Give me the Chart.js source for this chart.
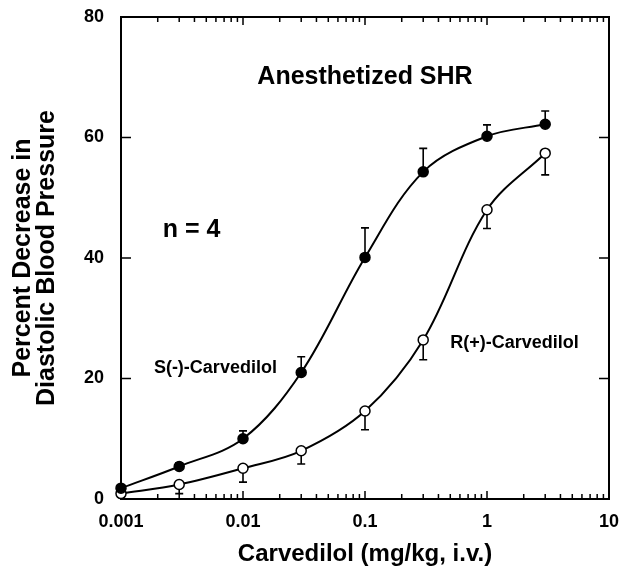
<!DOCTYPE html>
<html>
<head>
<meta charset="utf-8">
<script src="https://cdn.jsdelivr.net/npm/chart.js@4/dist/chart.umd.min.js"></script>
<style>
  html, body { margin: 0; padding: 0; background: #fff; }
  #wrap { width: 621px; height: 569px; }
</style>
</head>
<body>
<div id="wrap"><canvas id="chart"></canvas></div>
<script>
// Dose (mg/kg, i.v.)
const doses = [0.001, 0.003, 0.01, 0.03, 0.1, 0.3, 1, 3];

// S(-)-Carvedilol, mean and SEM (bars drawn upward)
const sMean = [1.8, 5.4, 10.0, 21.0, 40.1, 54.3, 60.2, 62.2];
const sErr  = [0.5, 0.6, 1.3, 2.6, 4.9, 3.9, 1.9, 2.2];

// R(+)-Carvedilol, mean and SEM (bars drawn downward)
const rMean = [0.9, 2.4, 5.1, 8.0, 14.6, 26.4, 48.0, 57.4];
const rErr  = [0.5, 1.5, 2.3, 2.2, 3.1, 3.3, 3.1, 3.6];

const xTicks = [0.001, 0.01, 0.1, 1, 10];
const yTicks = [0, 20, 40, 60, 80];

// Text placed inside the plot (data coordinates)
const notes = [
  { text: 'Anesthetized SHR', x: 0.1, y: 70, size: 25, align: 'center' },
  { text: 'n = 4', x: 0.0022, y: 44.6, size: 25, align: 'left' },
  { text: 'S(-)-Carvedilol', x: 0.00186, y: 21.7, size: 18, align: 'left' },
  { text: 'R(+)-Carvedilol', x: 0.5, y: 25.9, size: 18, align: 'left' }
];

const FONT = '"Liberation Sans", Arial, Helvetica, sans-serif';

// Frame, inward tick marks, error bars
const framePlugin = {
  id: 'frame',
  beforeDatasetsDraw(chart) {
    const { ctx, chartArea: a, scales: { x, y } } = chart;
    ctx.save();
    ctx.strokeStyle = '#000';
    ctx.lineWidth = 2;
    ctx.strokeRect(a.left, a.top, a.right - a.left, a.bottom - a.top);

    ctx.lineWidth = 1.5;
    ctx.beginPath();
    // x ticks: majors and minors, bottom and top, pointing in
    xTicks.forEach((d, i) => {
      const px = x.getPixelForValue(d);
      ctx.moveTo(px, a.bottom); ctx.lineTo(px, a.bottom - 8);
      ctx.moveTo(px, a.top); ctx.lineTo(px, a.top + 8);
      if (i < xTicks.length - 1) {
        for (let m = 2; m <= 9; m++) {
          const mx = x.getPixelForValue(d * m);
          ctx.moveTo(mx, a.bottom); ctx.lineTo(mx, a.bottom - 5);
          ctx.moveTo(mx, a.top); ctx.lineTo(mx, a.top + 5);
        }
      }
    });
    // y ticks: left and right, pointing in
    yTicks.forEach(v => {
      const py = y.getPixelForValue(v);
      ctx.moveTo(a.left, py); ctx.lineTo(a.left + 10, py);
      ctx.moveTo(a.right, py); ctx.lineTo(a.right - 10, py);
    });
    ctx.stroke();

    // error bars
    ctx.lineWidth = 1.6;
    ctx.beginPath();
    const bar = (d, m, e) => {
      const px = x.getPixelForValue(d);
      const p0 = y.getPixelForValue(m);
      const p1 = y.getPixelForValue(m + e);
      ctx.moveTo(px, p0); ctx.lineTo(px, p1);
      ctx.moveTo(px - 4, p1); ctx.lineTo(px + 4, p1);
    };
    doses.forEach((d, i) => bar(d, sMean[i], sErr[i]));
    doses.forEach((d, i) => bar(d, rMean[i], -rErr[i]));
    ctx.stroke();
    ctx.restore();
  },
  afterDatasetsDraw(chart) {
    const { ctx, scales: { x, y } } = chart;
    ctx.save();
    ctx.fillStyle = '#000';
    ctx.textBaseline = 'middle';
    notes.forEach(n => {
      ctx.font = 'bold ' + n.size + 'px ' + FONT;
      ctx.textAlign = n.align;
      ctx.fillText(n.text, x.getPixelForValue(n.x), y.getPixelForValue(n.y));
    });
    ctx.restore();
  }
};

const lineStyle = {
  borderColor: '#000',
  borderWidth: 2,
  pointRadius: 5,
  pointBorderWidth: 1.5,
  pointBorderColor: '#000',
  tension: 0.35,
  clip: false
};

new Chart(document.getElementById('chart'), {
  type: 'line',
  data: {
    datasets: [
      {
        ...lineStyle,
        label: 'S(-)-Carvedilol',
        data: doses.map((d, i) => ({ x: d, y: sMean[i] })),
        pointBackgroundColor: '#000'
      },
      {
        ...lineStyle,
        label: 'R(+)-Carvedilol',
        data: doses.map((d, i) => ({ x: d, y: rMean[i] })),
        pointBackgroundColor: '#fff'
      }
    ]
  },
  options: {
    responsive: true,
    maintainAspectRatio: false,
    animation: false,
    layout: { padding: { top: 17, right: 12, left: 0, bottom: 0 } },
    plugins: {
      legend: { display: false },
      tooltip: { enabled: false }
    },
    scales: {
      x: {
        type: 'logarithmic',
        min: 0.001,
        max: 10,
        afterBuildTicks: s => { s.ticks = xTicks.map(v => ({ value: v })); },
        afterFit: s => { s.height = 70; s.paddingLeft = 0; s.paddingRight = 0; },
        grid: { display: false, drawTicks: false },
        border: { display: false },
        ticks: {
          autoSkip: false,
          maxRotation: 0,
          padding: 12,
          color: '#000',
          font: { family: FONT, size: 18, weight: 'bold' },
          callback: v => String(v)
        },
        title: {
          display: true,
          text: 'Carvedilol (mg/kg, i.v.)',
          color: '#000',
          font: { family: FONT, size: 24, weight: 'bold', lineHeight: 1.0 },
          padding: { top: 0, bottom: 3 }
        }
      },
      y: {
        min: 0,
        max: 80,
        afterBuildTicks: s => { s.ticks = yTicks.map(v => ({ value: v })); },
        afterFit: s => { s.width = 121; s.paddingTop = 0; s.paddingBottom = 0; },
        grid: { display: false, drawTicks: false },
        border: { display: false },
        ticks: {
          padding: 17,
          color: '#000',
          font: { family: FONT, size: 18, weight: 'bold' }
        },
        title: {
          display: true,
          text: ['Percent Decrease in', 'Diastolic Blood Pressure'],
          color: '#000',
          font: { family: FONT, size: 25, weight: 'bold', lineHeight: 0.95 },
          padding: { top: 11, bottom: 0 }
        }
      }
    }
  },
  plugins: [framePlugin]
});
</script>
</body>
</html>
